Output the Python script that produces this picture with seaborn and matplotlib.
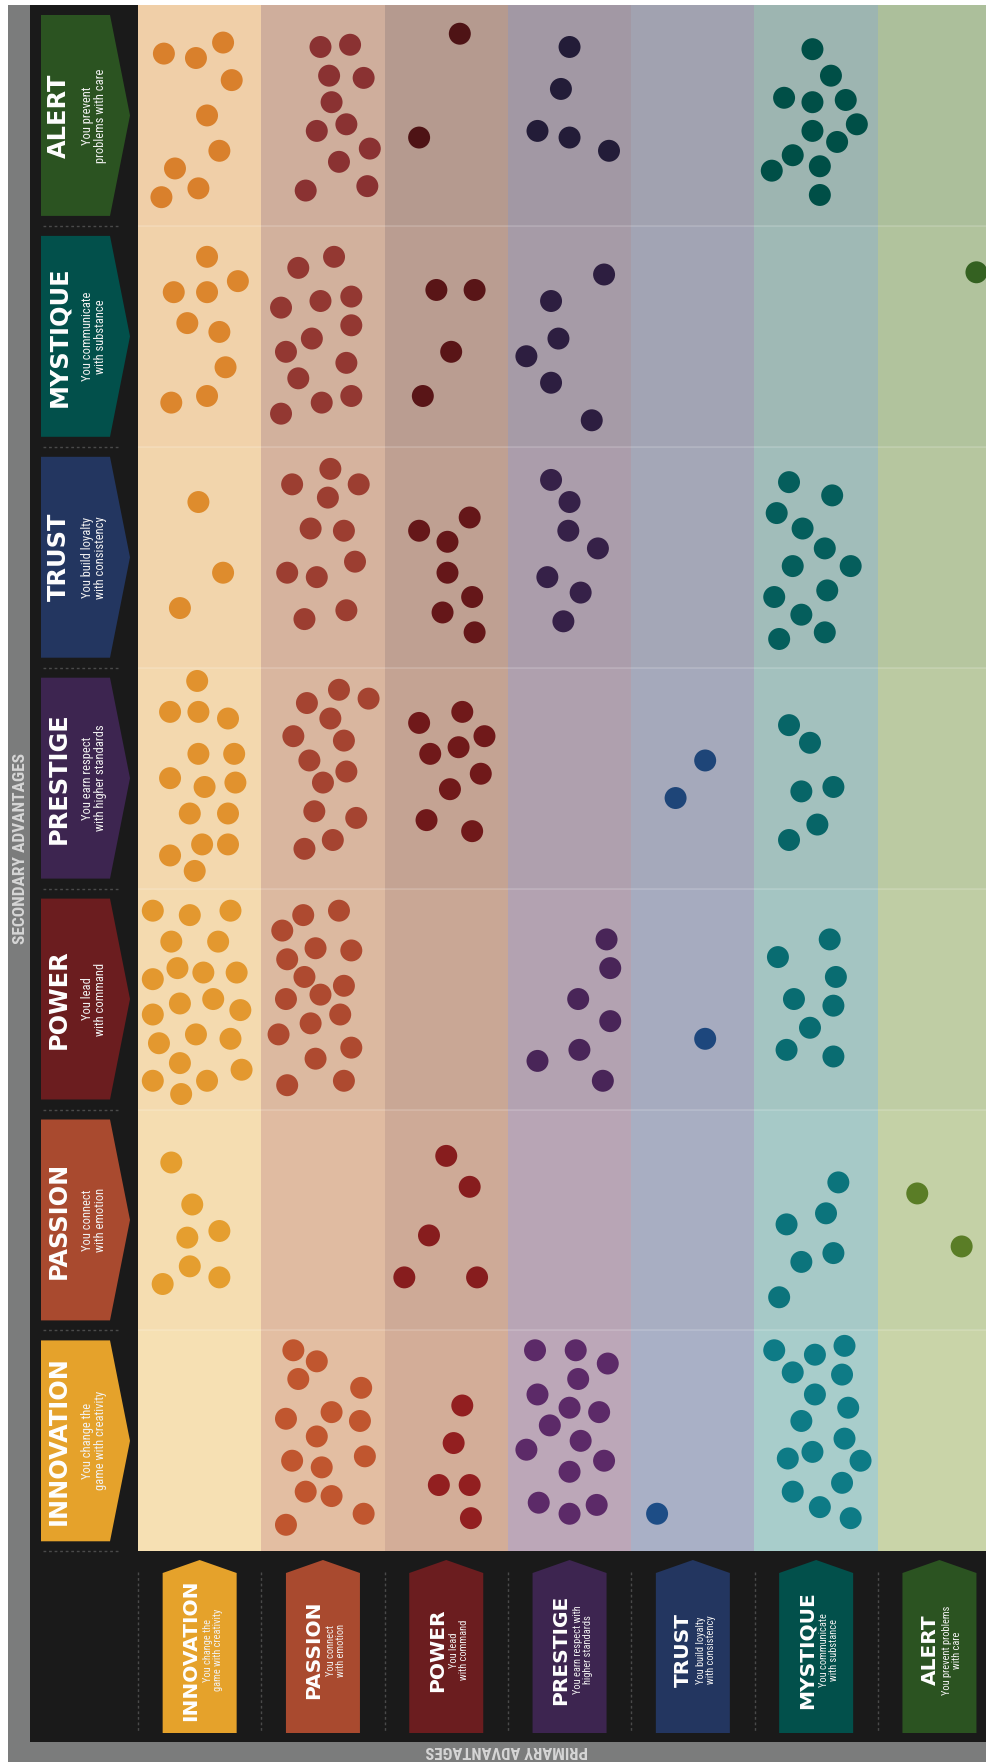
#%%

import numpy as np
import pandas as pd
import seaborn as sns
import matplotlib.pyplot as plt
from matplotlib import font_manager
from matplotlib.colors import ListedColormap, to_rgb
from matplotlib.patches import Polygon, Rectangle

#%%
# Primary advantages run along the bottom, secondary ones down the left side

advantages = ['INNOVATION', 'PASSION', 'POWER', 'PRESTIGE', 'TRUST', 'MYSTIQUE', 'ALERT']
secondary_order = ['ALERT', 'MYSTIQUE', 'TRUST', 'PRESTIGE', 'POWER', 'PASSION', 'INNOVATION']

side_taglines = ['You change the\ngame with creativity', 'You connect\nwith emotion',
                 'You lead\nwith command', 'You earn respect\nwith higher standards',
                 'You build loyalty\nwith consistency', 'You communicate\nwith substance',
                 'You prevent\nproblems with care']
bottom_taglines = ['You change the\ngame with creativity', 'You connect\nwith emotion',
                   'You lead\nwith command', 'You earn respect with\nhigher standards',
                   'You build loyalty\nwith consistency', 'You communicate\nwith substance',
                   'You prevent problems\nwith care']

# dots inside each cell: (share of cell width, share of cell height)
# one list per primary advantage, same order as `advantages`
alert_dots = [
    [(0.21, 0.22), (0.47, 0.24), (0.69, 0.17), (0.76, 0.34), (0.56, 0.50), (0.66, 0.66),
     (0.30, 0.74), (0.49, 0.83), (0.19, 0.87)],
    [(0.48, 0.19), (0.72, 0.18), (0.55, 0.32), (0.83, 0.33), (0.57, 0.44), (0.45, 0.57),
     (0.69, 0.54), (0.88, 0.65), (0.63, 0.71), (0.36, 0.84), (0.86, 0.82)],
    [(0.61, 0.13), (0.28, 0.60)],
    [(0.50, 0.19), (0.43, 0.38), (0.24, 0.57), (0.50, 0.60), (0.82, 0.66)],
    [],
    [(0.47, 0.20), (0.62, 0.32), (0.24, 0.42), (0.47, 0.44), (0.74, 0.43), (0.83, 0.54),
     (0.47, 0.57), (0.67, 0.62), (0.31, 0.68), (0.53, 0.73), (0.14, 0.75), (0.53, 0.86)],
    [],
]
mystique_dots = [
    [(0.56, 0.14), (0.81, 0.25), (0.29, 0.30), (0.56, 0.30), (0.40, 0.44), (0.66, 0.48),
     (0.71, 0.64), (0.27, 0.80), (0.56, 0.77)],
    [(0.59, 0.14), (0.30, 0.19), (0.16, 0.37), (0.48, 0.34), (0.73, 0.32), (0.73, 0.45),
     (0.41, 0.51), (0.20, 0.57), (0.69, 0.62), (0.30, 0.69), (0.16, 0.85), (0.49, 0.80),
     (0.73, 0.77)],
    [(0.42, 0.29), (0.73, 0.29), (0.54, 0.57), (0.31, 0.77)],
    [(0.78, 0.22), (0.35, 0.34), (0.41, 0.51), (0.15, 0.59), (0.35, 0.71), (0.68, 0.88)],
    [],
    [],
    [(0.80, 0.21)],
]
trust_dots = [
    [(0.49, 0.25), (0.69, 0.57), (0.34, 0.73)],
    [(0.56, 0.10), (0.25, 0.17), (0.79, 0.17), (0.54, 0.23), (0.40, 0.37), (0.67, 0.38),
     (0.76, 0.52), (0.21, 0.57), (0.45, 0.59), (0.35, 0.78), (0.69, 0.74)],
    [(0.69, 0.32), (0.28, 0.38), (0.51, 0.43), (0.51, 0.57), (0.71, 0.68), (0.47, 0.75),
     (0.73, 0.84)],
    [(0.35, 0.15), (0.50, 0.25), (0.49, 0.38), (0.73, 0.46), (0.32, 0.59), (0.59, 0.66),
     (0.45, 0.79)],
    [],
    [(0.28, 0.16), (0.63, 0.22), (0.18, 0.30), (0.39, 0.37), (0.57, 0.46), (0.31, 0.54),
     (0.78, 0.54), (0.59, 0.65), (0.16, 0.68), (0.38, 0.76), (0.57, 0.84), (0.20, 0.87)],
    [],
]
prestige_dots = [
    [(0.48, 0.06), (0.26, 0.20), (0.49, 0.20), (0.73, 0.23), (0.49, 0.39), (0.78, 0.39),
     (0.26, 0.50), (0.54, 0.54), (0.79, 0.52), (0.42, 0.66), (0.73, 0.66), (0.52, 0.80),
     (0.73, 0.80), (0.26, 0.85), (0.46, 0.92)],
    [(0.63, 0.10), (0.37, 0.16), (0.87, 0.14), (0.56, 0.23), (0.26, 0.31), (0.67, 0.33),
     (0.39, 0.42), (0.69, 0.47), (0.50, 0.52), (0.43, 0.65), (0.77, 0.68), (0.58, 0.78),
     (0.35, 0.82)],
    [(0.63, 0.20), (0.28, 0.25), (0.81, 0.31), (0.37, 0.39), (0.60, 0.36), (0.78, 0.48),
     (0.53, 0.55), (0.34, 0.69), (0.71, 0.74)],
    [],
    [(0.60, 0.42), (0.36, 0.59)],
    [(0.28, 0.26), (0.45, 0.34), (0.64, 0.54), (0.38, 0.56), (0.51, 0.71), (0.28, 0.78)],
    [],
]
power_dots = [
    [(0.12, 0.10), (0.42, 0.12), (0.75, 0.10), (0.27, 0.24), (0.65, 0.24), (0.32, 0.36),
     (0.53, 0.38), (0.80, 0.38), (0.12, 0.41), (0.34, 0.52), (0.61, 0.50), (0.83, 0.55),
     (0.12, 0.57), (0.47, 0.66), (0.75, 0.68), (0.17, 0.70), (0.34, 0.79), (0.84, 0.82),
     (0.12, 0.87), (0.56, 0.87), (0.35, 0.93)],
    [(0.34, 0.12), (0.63, 0.10), (0.17, 0.19), (0.44, 0.27), (0.73, 0.28), (0.21, 0.32),
     (0.35, 0.40), (0.67, 0.44), (0.48, 0.48), (0.20, 0.50), (0.64, 0.57), (0.40, 0.61),
     (0.14, 0.66), (0.73, 0.72), (0.44, 0.77), (0.21, 0.89), (0.67, 0.87)],
    [],
    [(0.80, 0.23), (0.83, 0.36), (0.57, 0.50), (0.83, 0.60), (0.58, 0.73), (0.24, 0.78),
     (0.77, 0.87)],
    [(0.60, 0.68)],
    [(0.61, 0.23), (0.19, 0.31), (0.66, 0.40), (0.32, 0.50), (0.64, 0.53), (0.45, 0.63),
     (0.26, 0.73), (0.64, 0.76)],
    [],
]
passion_dots = [
    [(0.27, 0.24), (0.44, 0.43), (0.40, 0.58), (0.66, 0.55), (0.42, 0.71), (0.66, 0.76),
     (0.20, 0.79)],
    [],
    [(0.50, 0.21), (0.69, 0.35), (0.36, 0.57), (0.16, 0.76), (0.75, 0.76)],
    [],
    [],
    [(0.68, 0.33), (0.58, 0.47), (0.26, 0.52), (0.64, 0.65), (0.38, 0.69), (0.20, 0.85)],
    [(0.32, 0.38), (0.68, 0.62)],
]
innovation_dots = [
    [],
    [(0.26, 0.09), (0.45, 0.14), (0.30, 0.22), (0.81, 0.26), (0.20, 0.40), (0.57, 0.37),
     (0.80, 0.41), (0.45, 0.48), (0.25, 0.59), (0.49, 0.62), (0.84, 0.57), (0.36, 0.73),
     (0.57, 0.75), (0.20, 0.88), (0.83, 0.83)],
    [(0.63, 0.34), (0.56, 0.51), (0.44, 0.70), (0.69, 0.70), (0.70, 0.85)],
    [(0.22, 0.09), (0.55, 0.09), (0.81, 0.15), (0.57, 0.22), (0.24, 0.29), (0.50, 0.35),
     (0.74, 0.37), (0.34, 0.43), (0.59, 0.50), (0.15, 0.54), (0.78, 0.59), (0.50, 0.64),
     (0.25, 0.78), (0.50, 0.83), (0.72, 0.79)],
    [(0.21, 0.83)],
    [(0.16, 0.09), (0.49, 0.11), (0.73, 0.07), (0.31, 0.19), (0.71, 0.20), (0.49, 0.29),
     (0.76, 0.35), (0.38, 0.41), (0.73, 0.49), (0.27, 0.58), (0.47, 0.55), (0.86, 0.59),
     (0.71, 0.69), (0.31, 0.73), (0.53, 0.80), (0.78, 0.85)],
    [],
]

dots_by_secondary = {
    'ALERT': alert_dots, 'MYSTIQUE': mystique_dots, 'TRUST': trust_dots,
    'PRESTIGE': prestige_dots, 'POWER': power_dots, 'PASSION': passion_dots,
    'INNOVATION': innovation_dots,
}

#%%
# Colours (top row = ALERT shade, bottom row = INNOVATION shade)

header_colors = ['#e5a22b', '#a94a2f', '#6b1d1f', '#3d2550', '#233660', '#02504b', '#2b5321']
bg_top = ['#f0cfa8', '#cfae9c', '#b59a8f', '#a298a4', '#a1a2b0', '#9db5b1', '#acbf9b']
bg_bottom = ['#f6e0b3', '#e3bea2', '#d3ad98', '#bca7b8', '#a9b0c6', '#a8cdcb', '#c9d4a8']
dot_top = ['#d9802c', '#8a3232', '#4e1315', '#231c38', '#1e3c6a', '#004f47', '#2a5a20']
dot_bottom = ['#e8a430', '#c0562f', '#921f20', '#5c2a68', '#1d4d86', '#0e7b86', '#638427']


def mix(a, b, t):
    return tuple((1 - t) * np.array(to_rgb(a)) + t * np.array(to_rgb(b)))


def pick_font(candidates):
    installed = {f.name for f in font_manager.fontManager.ttflist}
    for name in candidates:
        if name in installed:
            return name
    return 'DejaVu Sans'


title_font = 'DejaVu Sans'
narrow_font = pick_font(['Liberation Sans Narrow', 'DejaVu Sans Condensed', 'Roboto Condensed'])
narrow = narrow_font != 'DejaVu Sans'

#%%
# Dot table

records = []
for r, sec in enumerate(secondary_order):
    for c, prim in enumerate(advantages):
        for u, v in dots_by_secondary[sec][c]:
            records.append({'primary': prim, 'secondary': sec, 'x': c + u, 'y': r + v,
                            'cell': prim + '|' + sec})
df = pd.DataFrame(records)

palette = {}
for r, sec in enumerate(secondary_order):
    for c, prim in enumerate(advantages):
        palette[prim + '|' + sec] = mix(dot_top[c], dot_bottom[c], r / 6)

cell_colors = [mix(bg_top[c], bg_bottom[c], r / 6) for r in range(7) for c in range(7)]
cell_index = np.arange(49).reshape(7, 7)

#%%
# Figure in pixel units

W, H = 987, 1762
GRID_L, GRID_T, CELL_W, CELL_H = 138, 5, 123.3, 220.9
GRID_B = GRID_T + 7 * CELL_H

sns.set_style('white')
plt.rcParams['font.family'] = ['DejaVu Sans']

fig = plt.figure(figsize=(W / 100, H / 100), dpi=100)

bg = fig.add_axes([0, 0, 1, 1])
bg.set_xlim(0, W)
bg.set_ylim(H, 0)
bg.axis('off')
bg.add_patch(Rectangle((8, 5), W - 8, H - 5, color='#7b7c7c', lw=0))
bg.add_patch(Rectangle((30, 5), W - 30, 1742 - 5, color='#1a1a1a', lw=0))

# secondary advantage tabs on the left
for r, sec in enumerate(secondary_order):
    k = advantages.index(sec)
    top = GRID_T + r * CELL_H + 10
    bot = GRID_T + (r + 1) * CELL_H - 10
    mid = (top + bot) / 2
    bg.add_patch(Polygon([(41, top), (110, top), (130, mid), (110, bot), (41, bot)],
                         closed=True, color=header_colors[k], lw=0))
    bg.text(59, mid, sec, rotation=90, ha='center', va='center', color='white',
            fontsize=17.3, fontweight='bold', family=title_font)
    bg.text(94, mid, side_taglines[k], rotation=90, ha='center', va='center',
            multialignment='center', color='#f2f2f2', linespacing=1.0,
            fontsize=9 if narrow else 7.5, family=narrow_font)
    bg.plot([43, 120], [bot + 10, bot + 10], color='#4a4a4a', lw=1, ls=(0, (2, 2)))

# primary advantage tabs along the bottom
for c, prim in enumerate(advantages):
    cx = GRID_L + (c + 0.5) * CELL_W
    bg.add_patch(Polygon([(cx - 37, 1733), (cx - 37, 1573), (cx, 1560), (cx + 37, 1573),
                          (cx + 37, 1733)], closed=True, color=header_colors[c], lw=0))
    bg.text(cx - 9, 1650, prim, rotation=90, ha='center', va='center', color='white',
            fontsize=14.5, fontweight='bold', family=title_font)
    bg.text(cx + 13, 1650, bottom_taglines[c], rotation=90, ha='center', va='center',
            multialignment='center', color='#f2f2f2', linespacing=1.0,
            fontsize=7.5 if narrow else 6.3, family=narrow_font)
    xs = GRID_L + c * CELL_W
    bg.plot([xs, xs], [1572, 1732], color='#4a4a4a', lw=1, ls=(0, (2, 2)))

bg.text(21, 849, 'SECONDARY ADVANTAGES', rotation=90, ha='center', va='center',
        color='#d6d6d6', fontsize=12.5 if narrow else 9.8, fontweight='bold', family=narrow_font)
bg.text(507, 1750, 'PRIMARY ADVANTAGES', rotation=180, ha='center', va='center',
        color='#d6d6d6', fontsize=12 if narrow else 9.5, fontweight='bold', family=narrow_font)

#%%
# The grid: cells from a heatmap, dots from a scatter plot

ax = fig.add_axes([GRID_L / W, (H - GRID_B) / H, (W - GRID_L) / W, (GRID_B - GRID_T) / H])
ax.set_zorder(2)

sns.heatmap(cell_index, cmap=ListedColormap(cell_colors), vmin=-0.5, vmax=48.5,
            cbar=False, xticklabels=False, yticklabels=False, ax=ax)

for r in range(1, 7):
    ax.axhline(r, color='white', alpha=0.18, lw=1.2)

sns.scatterplot(data=df, x='x', y='y', hue='cell', palette=palette, s=250,
                linewidth=0, legend=False, ax=ax)

ax.set_xlim(0, (W - GRID_L) / CELL_W)
ax.set_ylim(7, 0)
ax.set_xlabel('')
ax.set_ylabel('')
ax.set_xticks([])
ax.set_yticks([])

fig.savefig('out.png', dpi=100)
